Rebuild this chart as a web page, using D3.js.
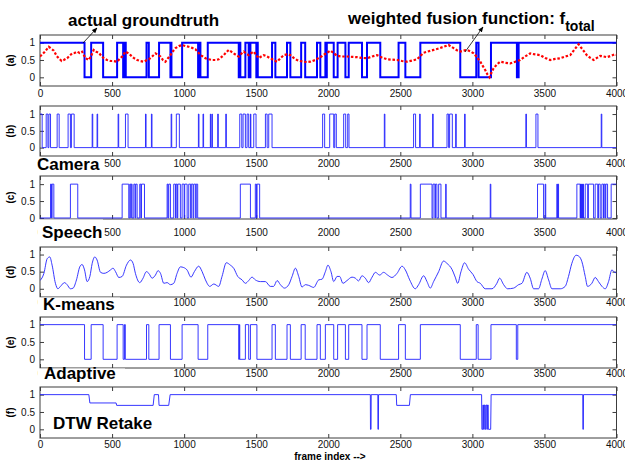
<!DOCTYPE html>
<html>
<head>
<meta charset="utf-8">
<script src="https://cdnjs.cloudflare.com/ajax/libs/d3/7.8.5/d3.min.js"></script>
<style>
body { margin: 0; background: #fff; }
svg { display: block; font-family: "Liberation Sans", Arial, sans-serif; }
</style>
</head>
<body>
<script>
// ---- data (frames 0..4000) ----
var xTicks = [0, 500, 1000, 1500, 2000, 2500, 3000, 3500, 4000]
var yTicks = [0, 0.5, 1]
var panelNames = ["(a)", "(b)", "(c)", "(d)", "(e)", "(f)"]
var methodNames = ["Camera", "Speech", "K-means", "Adaptive", "DTW Retake"]

// intervals [start, end] where the binary signal is 1
var groundTruthOn = [[0,309],[355,438],[535,577],[586,595],[739,755],[826,905],[908,912],[986,1097],[1104,1113],
  [1164,1379],[1385,1390],[1425,1448],[1460,1501],[1505,1511],[1610,1633],[1714,1737],[1812,1840],
  [1922,1945],[1980,1985],[1990,2038],[2065,2119],[2142,2234],[2269,2361],[2488,2535],[2639,2916],
  [3027,3043],[3129,3309],[3321,4000]]

var adaptiveOn = [[0,309],[355,438],[535,577],[586,592],[739,755],[826,905],[986,1097],[1164,1379],[1383,1386],
  [1425,1448],[1460,1505],[1610,1633],[1714,1737],[1812,1840],[1922,1945],[1980,2038],[2065,2119],
  [2142,2234],[2269,2361],[2488,2535],[2639,2916],[3027,3040],[3129,3305],[3315,4000]]

var cameraOn = [[0,15],[43,55],[62,73],[119,133],[195,211],[218,237],[362,366],[396,400],[542,546],[593,611],
  [732,736],[773,777],[910,914],[946,967],[1099,1103],[1131,1135],[1182,1185],[1193,1196],[1233,1237],
  [1289,1293],[1386,1400],[1409,1425],[1437,1448],[1460,1463],[1483,1499],[1564,1576],[1587,1610],
  [1961,1975],[2010,2038],[2045,2056],[2107,2121],[2135,2144],[2389,2393],[2592,2606],[2634,2638],
  [2724,2728],[2824,2835],[2842,2861],[2884,2888],[2946,2950],[3371,3375],[3441,3455],[3894,3898]]

var speechOn = [[73,80],[84,96],[211,262],[570,616],[623,630],[633,639],[651,660],[664,674],[692,700],[704,725],
  [882,888],[893,905],[928,940],[944,952],[956,974],[986,1000],[1004,1021],[1032,1045],[1050,1062],
  [1067,1080],[1084,1094],[1390,1460],[1494,1502],[1506,1524],[2569,2574],[2639,2720],[2727,2740],
  [2744,2754],[2766,2782],[2815,2818],[3124,3128],[3452,3494],[3505,3509],[3586,3590],[3594,3598],
  [3725,3748],[3750,3753],[3756,3759],[3762,3765],[3768,3771],[3783,3800],[3805,3841],[3852,3870],
  [3875,3887],[3898,3910],[3914,3922],[3926,3938],[3963,4000]]

// weighted fusion function f_total (red dotted, panel a)
var fusionPoints = [[0,0.6],[30,0.72],[61,0.88],[80,0.82],[96,0.77],[115,0.62],[130,0.55],[150,0.47],[165,0.5],
  [188,0.55],[205,0.62],[223,0.69],[240,0.7],[258,0.74],[275,0.7],[292,0.74],[316,0.55],[339,0.5],
  [355,0.62],[373,0.79],[390,0.74],[408,0.71],[425,0.62],[443,0.55],[465,0.5],[489,0.47],[510,0.47],
  [535,0.45],[550,0.52],[570,0.6],[593,0.74],[610,0.7],[628,0.64],[650,0.56],[674,0.5],[697,0.47],
  [720,0.45],[738,0.49],[755,0.52],[778,0.6],[801,0.69],[818,0.65],[836,0.6],[853,0.5],[870,0.45],
  [888,0.55],[905,0.64],[922,0.75],[940,0.84],[963,0.9],[986,0.93],[1010,0.9],[1032,0.88],[1055,0.85],
  [1078,0.81],[1095,0.73],[1113,0.64],[1130,0.6],[1148,0.55],[1170,0.52],[1194,0.5],[1217,0.5],
  [1240,0.52],[1258,0.58],[1275,0.64],[1292,0.72],[1310,0.79],[1327,0.74],[1344,0.69],[1362,0.64],
  [1379,0.6],[1397,0.68],[1414,0.74],[1431,0.68],[1448,0.64],[1466,0.7],[1483,0.74],[1500,0.64],
  [1518,0.55],[1535,0.6],[1552,0.64],[1575,0.6],[1598,0.55],[1621,0.5],[1645,0.45],[1668,0.55],
  [1691,0.64],[1714,0.66],[1737,0.64],[1760,0.56],[1783,0.5],[1806,0.47],[1830,0.45],[1853,0.44],
  [1876,0.45],[1910,0.5],[1945,0.58],[1980,0.68],[2015,0.77],[2038,0.7],[2061,0.62],[2095,0.6],
  [2130,0.6],[2165,0.59],[2200,0.58],[2234,0.56],[2269,0.55],[2304,0.6],[2338,0.64],[2373,0.57],
  [2408,0.52],[2442,0.51],[2477,0.5],[2512,0.47],[2546,0.45],[2580,0.48],[2616,0.52],[2640,0.62],
  [2662,0.71],[2697,0.75],[2731,0.79],[2765,0.83],[2800,0.88],[2835,0.93],[2870,0.84],[2893,0.78],
  [2916,0.74],[2940,0.77],[2962,0.79],[2985,0.75],[3009,0.69],[3032,0.58],[3055,0.45],[3072,0.33],
  [3089,0.21],[3105,0.08],[3119,0.0],[3133,0.14],[3147,0.26],[3170,0.37],[3193,0.45],[3228,0.42],
  [3263,0.4],[3298,0.45],[3332,0.5],[3366,0.6],[3401,0.69],[3436,0.66],[3471,0.64],[3505,0.56],
  [3540,0.5],[3575,0.53],[3610,0.55],[3645,0.6],[3679,0.64],[3708,0.8],[3737,0.95],[3765,0.8],
  [3794,0.64],[3818,0.56],[3841,0.5],[3864,0.56],[3887,0.62],[3910,0.6],[3933,0.58],[3962,0.62],
  [3991,0.67],[4000,0.65]]

// k-means output (panel d)
var kmeansPoints = [[0,0.24],[27,0.45],[50,0.88],[68,0.93],[84,0.69],[107,0.16],[124,0.0],[142,0.07],[170,0.18],
  [188,0.12],[211,0.0],[230,0.02],[253,0.26],[276,0.64],[292,0.71],[309,0.55],[327,0.21],[346,0.36],
  [362,0.74],[380,0.93],[396,0.84],[420,0.48],[443,0.45],[466,0.48],[489,0.55],[507,0.6],[524,0.5],
  [547,0.33],[570,0.36],[600,0.69],[628,0.84],[646,0.74],[662,0.45],[692,0.18],[715,0.31],[738,0.5],
  [755,0.45],[778,0.31],[801,0.4],[819,0.53],[836,0.45],[859,0.16],[882,0.18],[905,0.12],[928,0.16],
  [951,0.45],[974,0.64],[997,0.62],[1020,0.55],[1048,0.34],[1071,0.5],[1101,0.66],[1125,0.5],
  [1148,0.26],[1178,0.07],[1206,0.14],[1240,0.07],[1263,0.36],[1293,0.76],[1321,0.69],[1344,0.6],
  [1372,0.36],[1402,0.26],[1425,0.16],[1448,0.24],[1471,0.34],[1494,0.26],[1529,0.21],[1564,0.21],
  [1598,0.07],[1621,0.07],[1645,0.24],[1668,0.12],[1696,0.02],[1726,0.12],[1749,0.36],[1772,0.6],
  [1795,0.36],[1818,0.05],[1841,0.12],[1864,0.1],[1899,0.04],[1934,0.26],[1957,0.28],[1980,0.5],
  [1998,0.69],[2019,0.5],[2038,0.21],[2061,0.36],[2079,0.36],[2102,0.16],[2130,0.24],[2165,0.34],
  [2188,0.31],[2211,0.23],[2234,0.38],[2257,0.31],[2280,0.18],[2304,0.34],[2327,0.48],[2357,0.4],
  [2384,0.48],[2412,0.4],[2442,0.33],[2477,0.45],[2512,0.66],[2535,0.55],[2565,0.26],[2604,0.0],
  [2627,0.12],[2662,0.38],[2685,0.21],[2708,0.02],[2731,0.21],[2766,0.5],[2800,0.81],[2824,0.74],
  [2858,0.57],[2881,0.34],[2898,0.16],[2921,0.5],[2946,0.76],[2974,0.57],[3004,0.42],[3032,0.21],
  [3055,0.16],[3089,0.0],[3136,0.0],[3170,0.16],[3189,0.31],[3217,0.12],[3244,0.0],[3286,0.02],
  [3321,0.12],[3344,0.16],[3378,0.48],[3401,0.31],[3425,0.0],[3459,0.0],[3482,0.28],[3505,0.53],
  [3529,0.26],[3552,0.0],[3610,0.0],[3644,0.07],[3667,0.36],[3690,0.74],[3720,0.98],[3744,0.93],
  [3760,0.79],[3783,0.36],[3799,0.07],[3829,0.16],[3852,0.33],[3875,0.21],[3899,0.07],[3922,0.0],
  [3945,0.21],[3968,0.55],[3991,0.47],[4000,0.5]]

// DTW retake output (panel f)
var dtwPoints = [[0,1],[339,1],[346,0.76],[528,0.76],[532,0.69],[785,0.69],[793,1],[822,1],[826,0.69],
  [893,0.69],[903,1],[2292,1],[2293,0],[2297,0],[2298,1],[2344,1],[2345,0],[2348,0],[2349,1],
  [2472,1],[2475,0.69],[2563,0.69],[2570,1],[3064,1],[3066,0],[3072,0],[3073,0.7],[3077,0.7],
  [3078,0],[3082,0],[3083,0.7],[3088,0.7],[3089,0],[3093,0],[3094,0.7],[3100,0.7],[3101,0],
  [3104,0],[3105,0.7],[3110,0.7],[3111,0],[3127,0],[3130,1],[3766,1],[3767,0],[3770,0],[3771,1],[4000,1]]

// ---- layout ----
var W = 625, H = 462
var svg = d3.select("body").append("svg").attr("width", W).attr("height", H)

var x = d3.scaleLinear().domain([0, 4000]).range([40, 616.5])

// box of each subplot in pixels, plus y limits of that subplot
// hide = x tick labels that sit fully under a method name box in the original
var panels = [
  {top: 35,  bottom: 86,  lo: -0.25, hi: 1.22, pad: 4, hide: []},
  {top: 106, bottom: 156, lo: -0.25, hi: 1.24, pad: 4, hide: [0]},
  {top: 176, bottom: 219, lo: -0.03, hi: 1.24, pad: 10, hide: []},
  {top: 247, bottom: 297, lo: -0.24, hi: 1.22, pad: 2, hide: [500]},
  {top: 317, bottom: 368, lo: -0.25, hi: 1.22, pad: 2, hide: [500]},
  {top: 387, bottom: 438, lo: -0.25, hi: 1.22, pad: 3, hide: []}
]

// turn "on" intervals into step points
function toSteps(on) {
  var pts = []
  if (on[0][0] > 0) pts.push([0, 0])
  on.forEach(function(d) {
    pts.push([d[0], 1])
    pts.push([d[1], d[1] >= 4000 ? 1 : 0])
  })
  if (pts[pts.length - 1][0] < 4000) pts.push([4000, 0])
  return pts
}

var axisColor = "#3c3c3c"
var defs = svg.append("defs")

panels.forEach(function(p, i) {
  p.y = d3.scaleLinear().domain([p.lo, p.hi]).range([p.bottom, p.top])

  defs.append("clipPath").attr("id", "clip" + i)
    .append("rect")
    .attr("x", x.range()[0]).attr("y", p.top)
    .attr("width", x.range()[1] - x.range()[0]).attr("height", p.bottom - p.top)

  var g = svg.append("g").attr("class", "panel")

  // ticks, matlab style (pointing inward on all four sides)
  var bx = g.append("g").attr("transform", "translate(0," + p.bottom + ")")
    .call(d3.axisBottom(x).tickValues(xTicks).tickSize(-4).tickPadding(p.pad).tickFormat(d3.format("d")))
  bx.selectAll(".tick text").filter(function(d) { return p.hide.indexOf(d) >= 0 }).remove()

  g.append("g").attr("transform", "translate(0," + p.top + ")")
    .call(d3.axisTop(x).tickValues(xTicks).tickSize(-4).tickFormat(""))
  g.append("g").attr("transform", "translate(" + x.range()[0] + ",0)")
    .call(d3.axisLeft(p.y).tickValues(yTicks).tickSize(-4).tickPadding(5).tickFormat(function(d) { return String(d) }))
  g.append("g").attr("transform", "translate(" + x.range()[1] + ",0)")
    .call(d3.axisRight(p.y).tickValues(yTicks).tickSize(-4).tickFormat(""))

  g.selectAll(".domain").remove()
  g.selectAll(".tick line").attr("stroke", axisColor)
  g.selectAll(".tick text").attr("fill", "#111").style("font-size", "10px")
    .style("font-family", "'Liberation Sans', Arial, sans-serif")

  g.append("rect")
    .attr("x", x.range()[0]).attr("y", p.top)
    .attr("width", x.range()[1] - x.range()[0]).attr("height", p.bottom - p.top)
    .attr("fill", "none").attr("stroke", axisColor).attr("stroke-width", 1)

  // panel letter, rotated
  svg.append("text")
    .attr("transform", "translate(14," + ((p.top + p.bottom) / 2) + ") rotate(-90)")
    .attr("text-anchor", "middle")
    .style("font-size", "10px").style("font-weight", "bold")
    .text(panelNames[i])
})

function lineFor(p, curve) {
  return d3.line()
    .x(function(d) { return x(d[0]) })
    .y(function(d) { return p.y(d[1]) })
    .curve(curve)
}

function plot(i, pts, curve, color, width, dash) {
  var path = svg.append("path")
    .datum(pts)
    .attr("clip-path", "url(#clip" + i + ")")
    .attr("d", lineFor(panels[i], curve))
    .attr("fill", "none")
    .attr("stroke", color)
    .attr("stroke-width", width)
  if (dash) path.attr("stroke-dasharray", dash)
}

// (a) ground truth + fusion function
plot(0, toSteps(groundTruthOn), d3.curveStepAfter, "#0000ff", 2)
plot(0, fusionPoints, d3.curveLinear, "#ff0000", 2.2, "2.5,1.8")
// (b)..(f)
plot(1, toSteps(cameraOn), d3.curveStepAfter, "#2020ff", 0.9)
plot(2, toSteps(speechOn), d3.curveStepAfter, "#2020ff", 0.9)
plot(3, kmeansPoints, d3.curveMonotoneX, "#2020ff", 0.9)
plot(4, toSteps(adaptiveOn), d3.curveStepAfter, "#2020ff", 0.9)
plot(5, dtwPoints, d3.curveLinear, "#2020ff", 0.9)

// method names, on white boxes that cover part of the axis above
var nameBoxes = [
  {x: 37, y: 170, bx: 34, by: 157, bw: 70, bh: 18},
  {x: 42, y: 238, bx: 38, by: 219.5, bw: 65, bh: 26},
  {x: 43, y: 310, bx: 38, by: 297.5, bw: 82, bh: 18},
  {x: 44, y: 379, bx: 38, by: 368.5, bw: 87, bh: 17},
  {x: 53, y: 429, bx: 49, by: 414, bw: 106, bh: 19}
]
nameBoxes.forEach(function(b, i) {
  svg.append("rect").attr("x", b.bx).attr("y", b.by).attr("width", b.bw).attr("height", b.bh)
    .attr("fill", "#fff")
  svg.append("text").attr("x", b.x).attr("y", b.y)
    .style("font-size", "17px").style("font-weight", "bold")
    .text(methodNames[i])
})

// annotations at the top
defs.append("marker").attr("id", "arrow")
  .attr("viewBox", "0 0 10 10").attr("refX", 9).attr("refY", 5)
  .attr("markerWidth", 7).attr("markerHeight", 7).attr("orient", "auto")
  .append("path").attr("d", "M0,1 L10,5 L0,9 z").attr("fill", "#000")

svg.append("text").attr("x", 68).attr("y", 26)
  .style("font-size", "17px").style("font-weight", "bold")
  .text("actual groundtruth")
svg.append("line").attr("x1", 83).attr("y1", 43).attr("x2", 97).attr("y2", 28)
  .attr("stroke", "#000").attr("stroke-width", 0.8).attr("marker-end", "url(#arrow)")

var t2 = svg.append("text").attr("x", 348).attr("y", 24)
  .style("font-size", "17px").style("font-weight", "bold")
t2.append("tspan").text("weighted fusion function: f")
t2.append("tspan").attr("dy", 7).style("font-size", "14px").text("total")
svg.append("line").attr("x1", 465).attr("y1", 52).attr("x2", 483).attr("y2", 27)
  .attr("stroke", "#000").attr("stroke-width", 0.8).attr("marker-end", "url(#arrow)")

// x label
svg.append("text").attr("x", 330).attr("y", 460).attr("text-anchor", "middle")
  .style("font-size", "10px").style("font-weight", "bold")
  .text("frame index -->")
</script>
</body>
</html>
